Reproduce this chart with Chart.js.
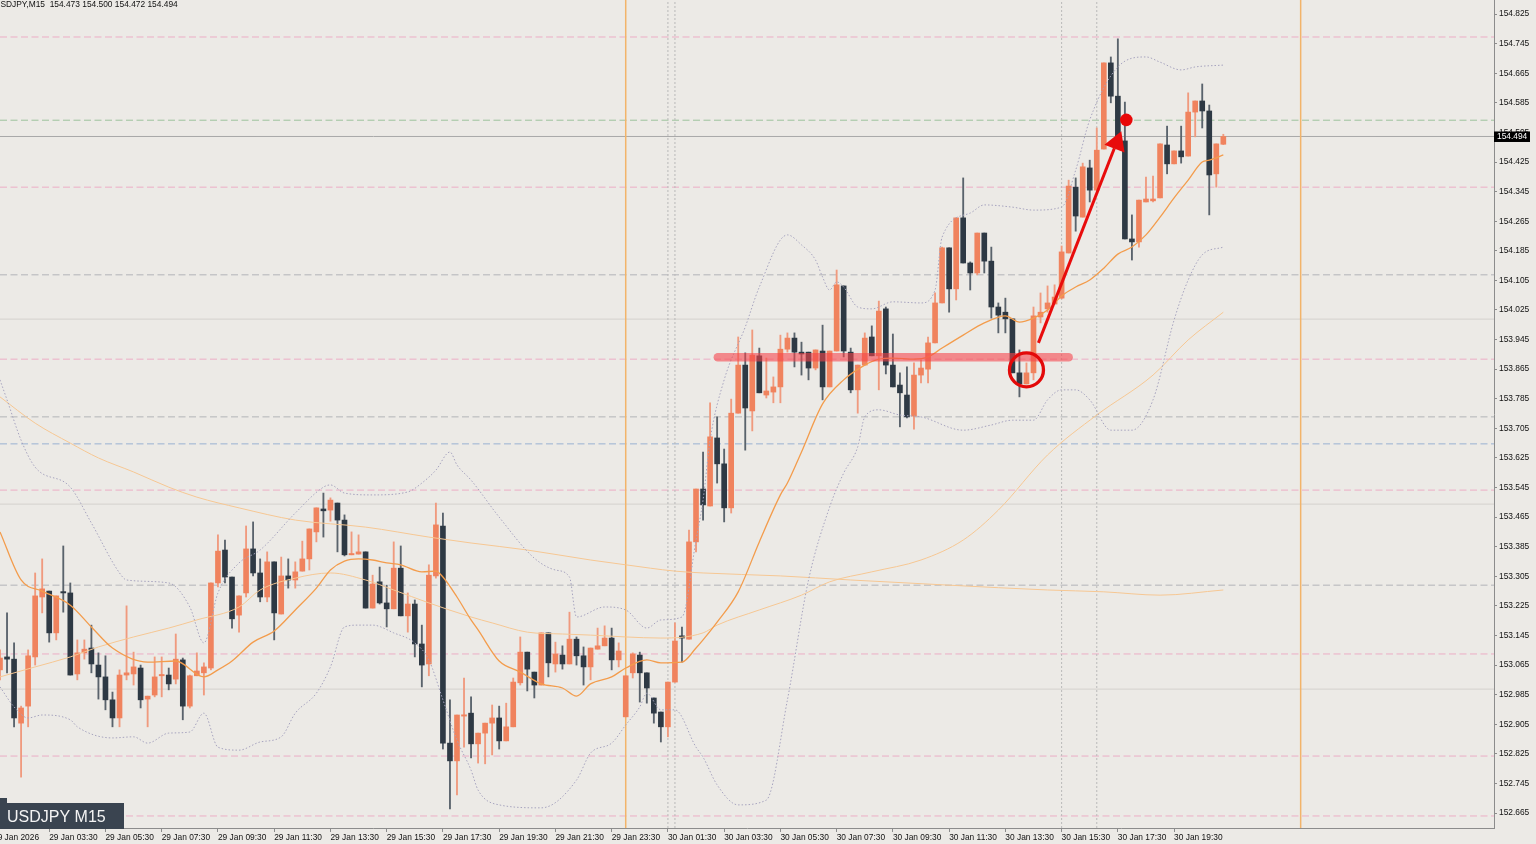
<!DOCTYPE html>
<html><head><meta charset="utf-8">
<script src="https://cdn.jsdelivr.net/npm/chart.js@4.4.1/dist/chart.umd.min.js"></script>
<style>html,body{margin:0;padding:0;background:#ECEAE6;overflow:hidden}#wrap{width:1536px;height:844px}</style>
</head><body><div id="wrap"><canvas id="c" width="1536" height="844"></canvas></div>
<script>
// ---------- DATA ----------
const headerText = "USDJPY,M15  154.473 154.500 154.472 154.494";
const symbolLabel = "USDJPY M15";
const timeLabels = ["29 Jan 2026","29 Jan 03:30","29 Jan 05:30","29 Jan 07:30","29 Jan 09:30","29 Jan 11:30","29 Jan 13:30","29 Jan 15:30","29 Jan 17:30","29 Jan 19:30","29 Jan 21:30","29 Jan 23:30","30 Jan 01:30","30 Jan 03:30","30 Jan 05:30","30 Jan 07:30","30 Jan 09:30","30 Jan 11:30","30 Jan 13:30","30 Jan 15:30","30 Jan 17:30","30 Jan 19:30"];
const xTickBars = [-1,7,15,23,31,39,47,55,63,71,79,87,95,103,111,119,127,135,143,151,159,167];
const yTickValues = [152.665,152.745,152.825,152.905,152.985,153.065,153.145,153.225,153.305,153.385,153.465,153.545,153.625,153.705,153.785,153.865,153.945,154.025,154.105,154.185,154.265,154.345,154.425,154.505,154.585,154.665,154.745,154.825];

const opens = [153.052,153.087,153.081,152.908,152.954,153.087,153.249,153.265,153.152,153.263,153.260,153.041,153.098,153.111,153.065,153.033,152.971,152.922,153.038,153.041,153.057,152.973,152.984,153.036,153.038,153.027,153.079,152.954,153.036,153.044,153.057,153.287,153.376,153.303,153.200,153.260,153.379,153.314,153.249,153.344,153.203,153.306,153.295,153.319,153.352,153.425,153.487,153.484,153.503,153.457,153.363,153.365,153.371,153.219,153.290,153.233,153.217,153.327,153.198,153.230,153.122,153.068,153.306,153.441,152.854,152.806,152.927,152.935,152.852,152.881,152.908,152.922,152.860,152.898,153.017,153.100,153.046,153.011,153.152,153.068,153.092,153.068,153.135,153.090,153.060,153.108,153.117,153.138,153.079,152.925,153.044,153.092,153.044,152.976,152.938,152.898,153.019,153.144,153.135,153.398,153.541,153.495,153.679,153.609,153.490,153.746,153.876,153.752,153.901,153.795,153.803,153.817,153.919,153.949,153.911,153.911,153.868,153.914,153.817,153.914,154.090,153.911,153.809,153.876,153.952,153.901,154.028,153.876,153.822,153.795,153.738,153.849,153.865,153.936,154.044,154.193,154.082,154.274,154.152,154.125,154.233,154.157,154.033,154.019,154.001,153.855,153.825,153.855,154.006,154.028,154.041,154.057,154.179,154.357,154.276,154.409,154.349,154.460,154.693,154.603,154.482,154.217,154.209,154.317,154.320,154.328,154.471,154.420,154.455,154.441,154.560,154.590,154.563,154.393,154.473];
const highs = [153.106,153.206,153.125,152.954,153.106,153.314,153.352,153.265,153.252,153.387,153.287,153.133,153.133,153.173,153.098,153.090,152.992,153.052,153.225,153.100,153.065,152.981,153.087,153.087,153.057,153.149,153.084,153.038,153.098,153.071,153.287,153.417,153.403,153.303,153.252,153.441,153.452,153.352,153.371,153.344,153.357,153.352,153.344,153.400,153.433,153.490,153.530,153.517,153.503,153.471,153.425,153.417,153.371,153.308,153.330,153.281,153.398,153.387,153.260,153.241,153.173,153.336,153.503,153.476,152.971,152.930,153.030,152.979,152.881,152.908,152.957,152.954,152.962,153.030,153.141,153.100,153.046,153.152,153.152,153.127,153.117,153.208,153.141,153.114,153.111,153.165,153.171,153.165,153.125,153.036,153.098,153.100,153.044,152.976,152.938,153.019,153.179,153.168,153.430,153.541,153.641,153.774,153.736,153.649,153.784,153.952,153.909,153.971,153.922,153.895,153.844,153.957,153.963,153.963,153.938,153.911,153.917,153.984,153.914,154.133,154.090,153.922,153.876,153.963,153.982,154.049,154.033,153.960,153.855,153.871,153.882,153.890,153.952,154.071,154.195,154.193,154.274,154.382,154.155,154.233,154.233,154.195,154.044,154.057,154.001,153.917,153.882,154.033,154.071,154.090,154.093,154.198,154.376,154.382,154.422,154.430,154.517,154.693,154.709,154.758,154.587,154.282,154.322,154.384,154.387,154.474,154.522,154.455,154.522,154.612,154.590,154.636,154.579,154.474,154.500];
const lows = [153.025,153.044,152.898,152.762,152.898,153.065,153.206,153.127,153.133,153.208,153.038,153.025,153.081,153.044,152.973,152.944,152.898,152.898,153.025,153.011,152.949,152.898,152.979,152.979,152.998,153.014,152.917,152.949,153.036,152.984,153.052,153.276,153.287,153.165,153.154,153.249,153.306,153.236,153.236,153.133,153.203,153.273,153.273,153.319,153.322,153.398,153.411,153.454,153.371,153.360,153.363,153.365,153.219,153.219,153.230,153.168,153.217,153.198,153.154,153.087,153.006,153.036,153.300,152.838,152.676,152.714,152.843,152.814,152.800,152.798,152.822,152.838,152.860,152.898,153.011,152.995,152.976,153.011,153.033,153.046,153.054,153.068,153.065,153.011,153.025,153.108,153.117,153.052,153.060,152.925,153.030,152.965,152.962,152.908,152.857,152.871,153.019,153.073,153.135,153.371,153.457,153.495,153.557,153.452,153.476,153.746,153.646,153.698,153.801,153.787,153.774,153.774,153.911,153.871,153.849,153.836,153.863,153.782,153.817,153.914,153.898,153.801,153.746,153.876,153.901,153.809,153.852,153.817,153.709,153.733,153.703,153.828,153.828,153.936,154.044,154.019,154.052,154.152,154.079,154.120,154.125,154.003,153.963,153.963,153.855,153.790,153.825,153.836,153.990,154.019,154.041,154.055,154.179,154.238,154.276,154.317,154.349,154.460,154.585,154.474,154.217,154.160,154.195,154.317,154.317,154.328,154.393,154.420,154.422,154.441,154.493,154.517,154.282,154.357,154.472];
const closes = [153.084,153.081,152.922,152.949,153.090,153.252,153.271,153.152,153.252,153.260,153.038,153.098,153.108,153.068,153.033,152.971,152.922,153.038,153.044,153.060,152.971,152.981,153.033,153.038,153.014,153.081,152.954,153.036,153.049,153.060,153.287,153.373,153.303,153.190,153.252,153.379,153.314,153.249,153.344,153.206,153.306,153.295,153.317,153.352,153.433,153.490,153.482,153.511,153.457,153.363,153.365,153.371,153.219,153.284,153.233,153.217,153.327,153.198,153.230,153.122,153.065,153.308,153.444,152.854,152.806,152.930,152.930,152.852,152.881,152.908,152.922,152.860,152.898,153.019,153.100,153.054,153.011,153.152,153.071,153.095,153.068,153.135,153.090,153.060,153.111,153.117,153.138,153.079,153.103,153.036,153.095,153.044,153.003,152.935,152.898,153.019,153.130,153.138,153.398,153.541,153.498,153.682,153.609,153.490,153.746,153.876,153.760,153.903,153.801,153.806,153.817,153.919,153.949,153.911,153.906,153.868,153.917,153.817,153.914,154.093,153.914,153.809,153.876,153.949,153.901,154.022,153.876,153.817,153.801,153.736,153.849,153.868,153.936,154.044,154.193,154.082,154.274,154.152,154.125,154.233,154.157,154.033,154.011,154.001,153.855,153.825,153.855,154.009,154.019,154.044,154.060,154.182,154.360,154.279,154.412,154.349,154.457,154.693,154.603,154.482,154.217,154.209,154.322,154.325,154.325,154.474,154.420,154.455,154.439,154.560,154.590,154.563,154.390,154.474,154.494];

const maFastIdx = [0,3,6,10,13,16,21,25,29,31,33,36,39,42,45,47,49,51,53,55,57,60,62,63,65,67,68,71,74,77,80,82,84,87,89,92,94,97,99,100,102,105,108,111,112,114,117,120,123,125,127,130,132,134,137,140,143,145,147,149,151,153,155,157,159,161,163,165,167,169,171,172,174];
const maFastVal = [153.425,153.295,153.265,153.227,153.168,153.111,153.073,153.076,153.033,153.052,153.076,153.127,153.157,153.214,153.273,153.322,153.346,153.352,153.349,153.341,153.336,153.317,153.319,153.303,153.249,153.187,153.160,153.076,153.046,153.014,153.003,152.981,153.014,153.033,153.057,153.079,153.071,153.073,153.111,153.133,153.181,153.263,153.398,153.525,153.557,153.641,153.771,153.836,153.876,153.892,153.895,153.892,153.898,153.922,153.957,153.990,154.009,153.992,154.003,154.025,154.063,154.087,154.106,154.138,154.176,154.195,154.228,154.276,154.328,154.376,154.425,154.430,154.444];
const maMidIdx = [0,5,10,14,19,24,28,34,37,42,47,52,56,61,67,70,75,80,84,89,94,100,102,108,114,118,124,131,137,142,149,156,164,169,174];
const maMidVal = [153.033,153.060,153.087,153.114,153.141,153.165,153.187,153.222,153.268,153.300,153.314,153.295,153.268,153.233,153.195,153.179,153.154,153.149,153.146,153.141,153.138,153.152,153.173,153.214,153.254,153.290,153.317,153.349,153.403,153.484,153.633,153.741,153.849,153.944,154.019];
const maSlowIdx = [0,5,10,14,19,24,28,34,42,52,61,67,75,84,89,96,100,111,121,135,149,157,165,174];
const maSlowVal = [153.790,153.719,153.665,153.625,153.587,153.546,153.519,153.490,153.457,153.438,153.411,153.395,153.376,153.349,153.336,153.319,153.314,153.306,153.295,153.281,153.268,153.263,153.254,153.268];
const bbUpIdx = [0,1,3,5,10,13,17,18,24,27,29,31,34,37,42,46,47,49,53,58,60,62,64,65,67,71,76,79,81,82,86,89,92,94,97,99,100,101,103,106,108,112,114,116,117,118,119,120,122,124,127,131,133,134,138,140,144,147,151,153,155,159,163,165,168,170,174];
const bbUpVal = [153.836,153.782,153.673,153.600,153.546,153.449,153.314,153.295,153.287,153.222,153.125,153.260,153.341,153.376,153.476,153.546,153.552,153.530,153.525,153.533,153.557,153.592,153.641,153.606,153.565,153.465,153.354,153.322,153.303,153.195,153.222,153.214,153.165,153.187,153.195,153.403,153.511,153.673,153.836,153.979,154.087,154.228,154.201,154.160,154.114,154.079,154.101,154.087,154.033,154.028,154.047,154.044,154.079,154.222,154.287,154.309,154.303,154.295,154.303,154.403,154.539,154.682,154.709,154.695,154.674,154.682,154.687];
const bbLoIdx = [0,2,4,6,10,11,16,19,21,24,27,29,31,34,37,40,42,45,47,49,51,53,56,59,61,63,65,67,68,71,77,82,84,87,89,91,92,94,96,99,100,102,105,109,112,115,118,120,122,123,125,128,131,137,141,144,147,149,151,153,155,158,161,164,167,169,171,174];
const bbLoVal = [153.006,152.952,152.922,152.930,152.917,152.898,152.868,152.871,152.854,152.881,152.884,152.935,152.843,152.835,152.857,152.871,152.935,152.989,153.060,153.168,153.173,153.173,153.152,153.125,153.079,152.971,152.862,152.781,152.727,152.687,152.679,152.754,152.827,152.854,152.903,152.952,152.989,152.944,152.944,152.843,152.816,152.741,152.687,152.700,152.971,153.295,153.492,153.584,153.655,153.736,153.755,153.741,153.736,153.700,153.714,153.727,153.727,153.782,153.809,153.809,153.782,153.700,153.700,153.782,153.998,154.106,154.174,154.195];

const levelValues = [154.763,154.538,154.357,154.120,153.892,153.736,153.663,153.538,153.281,153.095,152.819,152.657];
const levelKinds  = ['pink','green','pink','gray','pink','gray','blue','pink','gray','pink','pink','pink'];
const roundLevels = [154.000,153.500,153.000];
const bidPrice = 154.494;
const daySeparatorBars = [89,185];
const markerBars = [95,96,151,156];
const zoneLevel = 153.897, zoneFromBar = 102.1, zoneToBar = 152.0;
const circleBar = 146.0, circlePrice = 153.863;
const arrowFromBar = 147.7, arrowFromPrice = 153.936, arrowToBar = 158.5, arrowToPrice = 154.462;
const arrowHeadBar = 158.84, arrowHeadPrice = 154.477;
const dotBar = 160.2, dotPrice = 154.539;

// ---------- STYLE ----------
const X_MIN = 0, X_MAX = 212.5, Y_MIN = 152.6245, Y_MAX = 154.863;
const UP = '#F0835E', DOWN = '#2E3944', UP_WICK = '#F09A7E', DOWN_WICK = '#5A636C';
const levelColor = {pink:'#ECAEC5', green:'#9CC29C', gray:'#B2B4B8', blue:'#9AB1D2'};
const FONT = 'Liberation Sans';
const FSIZE = 8.4;

const zip = (a,b) => a.map((v,i)=>({x:v, y:b[i]}));
const isUp = opens.map((o,i)=>closes[i] >= o);

const datasets = [];
levelValues.forEach((v,k)=>datasets.push({type:'line', data:[{x:X_MIN,y:v},{x:X_MAX,y:v}], borderColor:levelColor[levelKinds[k]], borderWidth:1, borderDash:[7,3.5], pointRadius:0, order:30}));
roundLevels.forEach(v=>datasets.push({type:'line', data:[{x:X_MIN,y:v},{x:X_MAX,y:v}], borderColor:'#D9D6D2', borderWidth:1.2, pointRadius:0, order:31}));
datasets.push({type:'line', data:[{x:X_MIN,y:bidPrice},{x:X_MAX,y:bidPrice}], borderColor:'#A8A8A8', borderWidth:1, pointRadius:0, order:29});
daySeparatorBars.forEach(b=>datasets.push({type:'line', data:[{x:b,y:Y_MIN},{x:b,y:Y_MAX}], borderColor:'#F2B46A', borderWidth:1.5, pointRadius:0, order:28}));
markerBars.forEach(b=>datasets.push({type:'line', data:[{x:b,y:Y_MIN},{x:b,y:Y_MAX}], borderColor:'#B9B9B9', borderWidth:1, borderDash:[2,2], pointRadius:0, order:28}));

datasets.push({type:'bar', data:opens.map((o,i)=>({x:i, y:[lows[i], highs[i]]})), backgroundColor:isUp.map(u=>u?UP_WICK:DOWN_WICK), barThickness:1.2, grouped:false, borderWidth:0, order:12});
datasets.push({type:'bar', data:opens.map((o,i)=>({x:i, y:[o, closes[i]]})), backgroundColor:isUp.map(u=>u?UP:DOWN), barThickness:5, minBarLength:1.3, grouped:false, borderWidth:0, order:11});

const lineBase = {type:'line', pointRadius:0, cubicInterpolationMode:'monotone', fill:false};
datasets.push({...lineBase, data:zip(maSlowIdx,maSlowVal), borderColor:'#F6C793', borderWidth:1, order:8});
datasets.push({...lineBase, data:zip(maMidIdx,maMidVal), borderColor:'#F6C793', borderWidth:1, order:8});
datasets.push({...lineBase, data:zip(bbUpIdx,bbUpVal), borderColor:'#A6A3BE', borderWidth:1, borderDash:[1.5,2], order:7});
datasets.push({...lineBase, data:zip(bbLoIdx,bbLoVal), borderColor:'#A6A3BE', borderWidth:1, borderDash:[1.5,2], order:7});
datasets.push({...lineBase, data:zip(maFastIdx,maFastVal), borderColor:'#F39C4C', borderWidth:1.3, order:6});

// annotations
datasets.push({type:'line', data:[{x:zoneFromBar,y:zoneLevel},{x:zoneToBar,y:zoneLevel}], borderColor:'rgba(246,66,72,0.58)', borderWidth:8.5, borderCapStyle:'round', pointRadius:0, order:3});
datasets.push({type:'line', data:[{x:circleBar,y:circlePrice}], showLine:false, pointRadius:17, pointBorderWidth:3.3, pointBorderColor:'#E30A0A', pointBackgroundColor:'rgba(0,0,0,0)', order:2});
datasets.push({type:'line', data:[{x:arrowFromBar,y:arrowFromPrice},{x:arrowToBar,y:arrowToPrice}], borderColor:'#E80C0C', borderWidth:3, pointRadius:0, order:2});
datasets.push({type:'line', data:[{x:arrowHeadBar,y:arrowHeadPrice}], showLine:false, pointStyle:'triangle', rotation:21.4, pointRadius:12.5, pointBorderWidth:0, pointBackgroundColor:'#E80C0C', order:1});
datasets.push({type:'line', data:[{x:dotBar,y:dotPrice}], showLine:false, pointRadius:6.3, pointBorderWidth:0, pointBackgroundColor:'#E80808', order:1});

const overlay = {
  id:'overlay',
  afterDraw(chart){
    const ctx = chart.ctx, ys = chart.scales.y, area = chart.chartArea;
    ctx.save();
    ctx.font = FSIZE + 'px "' + FONT + '"';
    ctx.fillStyle = '#111'; ctx.textAlign = 'left'; ctx.textBaseline = 'alphabetic';
    ctx.fillText(headerText, -5.6, 6.8);
    const py = ys.getPixelForValue(bidPrice);
    ctx.fillStyle = '#000'; ctx.fillRect(area.right, py - 5, 36, 10.5);
    ctx.fillStyle = '#fff'; ctx.textBaseline = 'middle';
    ctx.fillText(bidPrice.toFixed(3), area.right + 3, py + 0.5);
    ctx.fillStyle = '#3A4450';
    ctx.fillRect(0, 803, 124, 26); ctx.fillRect(0, 798, 7, 5);
    ctx.fillStyle = '#F4F4F4'; ctx.font = '16px "Liberation Sans"'; ctx.textBaseline = 'alphabetic';
    ctx.fillText(symbolLabel, 7, 822);
    ctx.restore();
  }
};

new Chart(document.getElementById('c'), {
  type:'bar',
  data:{datasets},
  options:{
    responsive:false, animation:false, devicePixelRatio:1, events:[],
    layout:{padding:0, autoPadding:false},
    plugins:{legend:{display:false}, tooltip:{enabled:false}},
    scales:{
      x:{type:'linear', min:X_MIN, max:X_MAX, offset:false,
        afterBuildTicks:s=>{s.ticks = xTickBars.map(v=>({value:v}));},
        afterFit:s=>{s.height = 16; s.paddingLeft = 0; s.paddingRight = 0;},
        ticks:{autoSkip:false, maxRotation:0, minRotation:0, align:'start', padding:1, color:'#111', font:{family:FONT, size:FSIZE}, callback:(v,i)=>timeLabels[i]},
        grid:{drawOnChartArea:false, drawTicks:true, tickLength:4, color:'#8C8C8C', offset:false},
        border:{display:true, color:'#8C8C8C'}},
      y:{type:'linear', position:'right', min:Y_MIN, max:Y_MAX,
        afterBuildTicks:s=>{s.ticks = yTickValues.map(v=>({value:v}));},
        afterFit:s=>{s.width = 42; s.paddingTop = 0; s.paddingBottom = 0;},
        ticks:{autoSkip:false, padding:2, color:'#111', font:{family:FONT, size:FSIZE}, callback:v=>Number(v).toFixed(3)},
        grid:{drawOnChartArea:false, drawTicks:true, tickLength:3, color:'#8C8C8C'},
        border:{display:true, color:'#8C8C8C'}}
    }
  },
  plugins:[overlay]
});
</script>
</body></html>
